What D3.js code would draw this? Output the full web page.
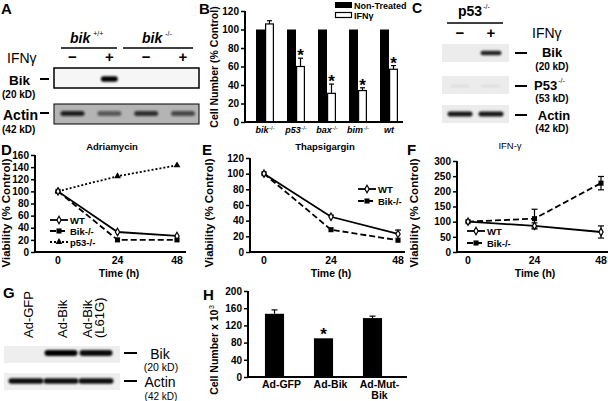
<!DOCTYPE html>
<html><head><meta charset="utf-8">
<script src="https://cdn.jsdelivr.net/npm/d3@7"></script>
<style>body{margin:0;background:#fff} svg{display:block;font-family:"Liberation Sans",Arial,sans-serif}</style>
</head><body><svg id="c" width="608" height="401"></svg>
<script>
// ---------------- DATA ----------------
// Panel A blot (lanes: bik+/+ -, bik+/+ +, bik-/- -, bik-/- +)
const aLanes = ["wt-", "wt+", "ko-", "ko+"];
const aBikBand = [0, 1, 0, 0];
const aActinBand = [0.9, 0.55, 0.8, 0.65];
// Panel B
const bCategories = ["bik", "p53", "bax", "bim", "wt"];
const bSeries = ["Non-Treated", "IFNγ"];
const bNonTreated = [100, 100, 100, 100, 100];
const bIFN = [106, 60, 31, 34, 57];
const bIFNErr = [3.5, 9, 10, 3, 4];
const bStar = [false, true, true, true, true];
const bTicks = [0, 20, 40, 60, 80, 100, 120];
// Panel C blot (lanes: -, +)
const cLanes = ["-", "+"];
const cBikBand = [0, 0.85];
const cP53Band = [0.05, 0.05];
const cActinBand = [0.9, 0.9];
// Panels D-F
const timePoints = [0, 24, 48];
const dWT = [100, 33, 26.5];
const dBik = [100, 20, 20];
const dP53 = [100, 125, 143];
const dTicks = [0, 20, 40, 60, 80, 100, 120, 140, 160];
const eWT = [100, 45, 23];
const eWTErr = [0, 2, 5];
const eBik = [100, 28.5, 15];
const eTicks = [0, 20, 40, 60, 80, 100, 120];
const fWT = [100, 86, 66];
const fWTErr = [0, 10, 20];
const fBik = [100, 110, 227];
const fBikErr = [0, 31, 22];
const fTicks = [0, 50, 100, 150, 200, 250, 300];
// Panel G blot (lanes: Ad-GFP, Ad-Bik, Ad-Bik(L61G))
const gLanes = ["Ad-GFP", "Ad-Bik", "Ad-Bik (L61G)"];
const gBikBand = [0, 1, 0.95];
const gActinBand = [0.95, 0.95, 0.95];
// Panel H
const hCategories = ["Ad-GFP", "Ad-Bik", "Ad-Mut-Bik"];
const hLabels = [["Ad-GFP"], ["Ad-Bik"], ["Ad-Mut-", "Bik"]];
const hValues = [147, 90, 137];
const hErr = [9, 0, 4.5];
const hStar = [false, true, false];
const hTicks = [0, 40, 80, 120, 160, 200];

// ---------------- HELPERS ----------------
const FONT = '"Liberation Sans", Arial, sans-serif';
const svg = d3.select('#c');
svg.append('rect').attr('width', 608).attr('height', 401).attr('fill', '#fff');
const defs = svg.append('defs');
defs.append('filter').attr('id', 'blur').attr('x', '-50%').attr('y', '-200%').attr('width', '200%').attr('height', '500%')
  .append('feGaussianBlur').attr('stdDeviation', 1.1);

function text(x, y, s, o = {}) {
  const t = svg.append('text').attr('x', x).attr('y', y)
    .attr('font-size', o.size || 10).attr('font-weight', o.weight || 'bold')
    .attr('font-style', o.italic ? 'italic' : 'normal')
    .attr('text-anchor', o.anchor || 'start').attr('fill', '#000').text(s);
  if (o.rotate) t.attr('transform', `rotate(-90,${x},${y})`);
  return t;
}
function supText(x, y, base, sup, o = {}) {
  const t = svg.append('text').attr('x', x).attr('y', y)
    .attr('font-size', o.size || 10).attr('font-weight', o.weight || 'bold')
    .attr('text-anchor', o.anchor || 'start').attr('fill', '#000');
  if (o.rotate) t.attr('transform', `rotate(-90,${x},${y})`);
  t.append('tspan').attr('font-style', o.italic ? 'italic' : 'normal').text(base);
  if (sup) t.append('tspan').attr('font-size', o.supSize || 7).attr('dy', o.supDy || -5).attr('dx', o.supDx || 1)
    .attr('font-weight', 'normal').text(sup);
  return t;
}
function hline(x1, x2, y, w = 1.5) {
  svg.append('line').attr('x1', x1).attr('x2', x2).attr('y1', y).attr('y2', y).attr('stroke', '#000').attr('stroke-width', w);
}
function yAxis(scale, x, ticks) {
  const g = svg.append('g').attr('transform', `translate(${x},0)`)
    .call(d3.axisLeft(scale).tickValues(ticks).tickSize(4).tickPadding(2).tickSizeOuter(0));
  g.attr('font-family', FONT);
  g.select('.domain').remove();
  g.selectAll('.tick line').attr('stroke', '#000').attr('stroke-width', 1.5);
  g.selectAll('.tick text').attr('font-size', 10).attr('font-weight', 'bold').attr('fill', '#000');
  svg.append('line').attr('x1', x).attr('x2', x).attr('y1', scale.range()[1]).attr('y2', scale.range()[0])
    .attr('stroke', '#000').attr('stroke-width', 2);
}
function xAxisLine(x1, x2, y) {
  svg.append('line').attr('x1', x1 - 1).attr('x2', x2).attr('y1', y).attr('y2', y).attr('stroke', '#000').attr('stroke-width', 2);
}
function band(cx, cy, w, h, intensity, color = '#000') {
  if (intensity <= 0) return;
  svg.append('rect').attr('x', cx - w / 2).attr('y', cy - h / 2).attr('width', w).attr('height', h)
    .attr('rx', h / 2).attr('ry', h / 2).attr('fill', color).attr('opacity', intensity).attr('filter', 'url(#blur)');
}
function marker(type, x, y) {
  if (type === 'diamond') {
    svg.append('path').attr('d', d3.symbol(d3.symbolDiamond, 16)()).attr('transform', `translate(${x},${y})`)
      .attr('fill', '#fff').attr('stroke', '#000').attr('stroke-width', 1.2);
  } else if (type === 'square') {
    svg.append('path').attr('d', d3.symbol(d3.symbolSquare, 26)()).attr('transform', `translate(${x},${y})`).attr('fill', '#000');
  } else {
    svg.append('path').attr('d', d3.symbol(d3.symbolTriangle, 20)()).attr('transform', `translate(${x},${y})`).attr('fill', '#000');
  }
}
function errBar(x, y0, y1, cap = 3) {
  svg.append('line').attr('x1', x).attr('x2', x).attr('y1', y0).attr('y2', y1).attr('stroke', '#000').attr('stroke-width', 1.2);
  hline(x - cap, x + cap, y1, 1.2);
}
const dashes = { solid: null, dashed: '6,3', dotted: '2,2' };
function series(x, y, vals, errs, mk, dash, both) {
  const line = d3.line().x((d, i) => x(timePoints[i])).y(d => y(d));
  svg.append('path').datum(vals).attr('d', line).attr('fill', 'none').attr('stroke', '#000').attr('stroke-width', 1.8)
    .attr('stroke-dasharray', dashes[dash]);
  vals.forEach((v, i) => {
    if (errs && errs[i] > 0) {
      errBar(x(timePoints[i]), y(v), y(v + errs[i]));
      if (both) errBar(x(timePoints[i]), y(v), y(v - errs[i]));
    }
    marker(mk, x(timePoints[i]), y(v));
  });
}
function legendItem(x, y, label, mk, dash) {
  svg.append('line').attr('x1', x).attr('x2', x + 18).attr('y1', y).attr('y2', y).attr('stroke', '#000').attr('stroke-width', 1.8)
    .attr('stroke-dasharray', dashes[dash]);
  marker(mk, x + 9, y);
  text(x + 20, y + 3.5, label, { size: 9.5 });
}
function panelLetter(x, y, s) { text(x, y, s, { size: 15 }); }

// ---------------- PANEL A ----------------
panelLetter(1, 14, 'A');
supText(70, 43, 'bik', '+/+', { size: 14, italic: true, supSize: 7, supDy: -7, supDx: 3 });
supText(142, 43, 'bik', '-/-', { size: 14, italic: true, supSize: 7, supDy: -7, supDx: 3 });
hline(61, 117, 48, 1.5);
hline(123, 193, 48, 1.5);
text(7, 63, 'IFNγ', { size: 14, weight: 'normal' });
const aX = d3.scalePoint().domain(aLanes).range([72.5, 183]);
['−', '+', '−', '+'].forEach((s, i) => text(aX(aLanes[i]), 62, s, { size: 15, anchor: 'middle' }));
svg.append('rect').attr('x', 54).attr('y', 68).attr('width', 145).attr('height', 20).attr('fill', '#f6f6f6').attr('stroke', '#000').attr('stroke-width', 1.5);
aLanes.forEach((l, i) => band(aX(l), 79, 17, 5.5, aBikBand[i]));
svg.append('rect').attr('x', 54).attr('y', 104).attr('width', 145).attr('height', 20).attr('fill', '#b4b4b4').attr('stroke', '#000').attr('stroke-width', 1);
aLanes.forEach((l, i) => band(aX(l), 113.5, 24, 5, aActinBand[i], '#111'));
text(9, 85, 'Bik', { size: 13.5 });
text(2, 98, '(20 kD)', { size: 10 });
hline(40, 49, 79, 2);
text(3, 120, 'Actin', { size: 14 });
text(2, 133, '(42 kD)', { size: 10 });
hline(40, 49, 113, 2);

// ---------------- PANEL B ----------------
panelLetter(199, 14, 'B');
const bY = d3.scaleLinear().domain([0, 120]).range([122, 11]);
const bX = d3.scaleBand().domain(bCategories).range([249.5, 404.5]).paddingInner(0.42).paddingOuter(0.21);
const bSub = d3.scaleBand().domain(bSeries).range([0, bX.bandwidth()]);
bCategories.forEach((c, i) => {
  svg.append('rect').attr('x', bX(c) + bSub(bSeries[0])).attr('y', bY(bNonTreated[i]))
    .attr('width', bSub.bandwidth()).attr('height', bY(0) - bY(bNonTreated[i])).attr('fill', '#000');
  const xi = bX(c) + bSub(bSeries[1]);
  const cx = xi + bSub.bandwidth() / 2;
  errBar(cx, bY(bIFN[i]), bY(bIFN[i] + bIFNErr[i]), 2.5);
  svg.append('rect').attr('x', xi + 0.6).attr('y', bY(bIFN[i]))
    .attr('width', bSub.bandwidth() - 1.2).attr('height', bY(0) - bY(bIFN[i])).attr('fill', '#fff').attr('stroke', '#000').attr('stroke-width', 1.2);
  if (bStar[i]) text(cx, bY(bIFN[i] + bIFNErr[i]) + 3, '*', { size: 17, anchor: 'middle' });
  supText(bX(c) + bX.bandwidth() / 2, 133, c, c === 'wt' ? null : '-/-', { size: 9, italic: true, anchor: 'middle', supSize: 6, supDy: -3, supDx: 0.5 });
});
yAxis(bY, 245, bTicks);
xAxisLine(245, 403, bY(0));
text(218, 67, 'Cell Number (% Control)', { size: 10.5, anchor: 'middle', rotate: true });
svg.append('rect').attr('x', 335).attr('y', 2).attr('width', 17).attr('height', 6).attr('fill', '#000');
svg.append('rect').attr('x', 335.5).attr('y', 12.5).attr('width', 16).attr('height', 5).attr('fill', '#fff').attr('stroke', '#000').attr('stroke-width', 1.2);
text(354, 8.5, bSeries[0], { size: 9 });
text(354, 19, bSeries[1], { size: 9 });

// ---------------- PANEL C ----------------
text(412, 13, 'C', { size: 14 });
supText(458, 16, 'p53', '-/-', { size: 14, supSize: 7, supDy: -7, supDx: 1 });
hline(447, 503, 23, 1.5);
const cX = d3.scalePoint().domain(cLanes).range([460, 491]);
['−', '+'].forEach((s, i) => text(cX(cLanes[i]), 38, s, { size: 15, anchor: 'middle' }));
text(532, 38, 'IFNγ', { size: 14, weight: 'normal' });
[[44, cBikBand, 53, 4.5, 21], [76, cP53Band, 86, 3, 20], [105, cActinBand, 114, 5, 25]].forEach(([y0, vals, cy, h, w]) => {
  svg.append('rect').attr('x', 442).attr('y', y0).attr('width', 67).attr('height', 18).attr('fill', '#ececec');
  cLanes.forEach((l, i) => band(cX(l), cy, w, h, vals[i]));
});
hline(515, 527, 53, 2);
text(552, 57, 'Bik', { size: 13, anchor: 'middle' });
text(552, 70, '(20 kD)', { size: 10, anchor: 'middle' });
hline(515, 527, 86, 2);
supText(534, 90, 'P53', '-/-', { size: 13, supSize: 7, supDy: -7, supDx: 1 });
text(552, 102, '(53 kD)', { size: 10, anchor: 'middle' });
hline(515, 527, 115, 2);
text(554, 120, 'Actin', { size: 13, anchor: 'middle' });
text(552, 132, '(42 kD)', { size: 10, anchor: 'middle' });

// ---------------- PANEL D ----------------
panelLetter(1, 155, 'D');
text(112, 150, 'Adriamycin', { size: 9.5, anchor: 'middle' });
const dX = d3.scaleLinear().domain([0, 48]).range([58, 177]);
const dY = d3.scaleLinear().domain([0, 160]).range([252, 155]);
yAxis(dY, 35, dTicks);
xAxisLine(35, 186, dY(0));
timePoints.forEach(t => text(dX(t), 264, t, { size: 10.5, anchor: 'middle' }));
text(119, 277, 'Time (h)', { size: 10.5, anchor: 'middle' });
text(10, 213, 'Viability (% Control)', { size: 11.5, anchor: 'middle', rotate: true });
series(dX, dY, dP53, null, 'triangle', 'dotted');
series(dX, dY, dBik, null, 'square', 'dashed');
series(dX, dY, dWT, null, 'diamond', 'solid');
legendItem(50, 220, 'WT', 'diamond', 'solid');
legendItem(50, 231, 'Bik-/-', 'square', 'dashed');
legendItem(50, 242, 'p53-/-', 'triangle', 'dotted');

// ---------------- PANEL E ----------------
panelLetter(202, 155, 'E');
text(325, 150, 'Thapsigargin', { size: 9.5, anchor: 'middle' });
const eX = d3.scaleLinear().domain([0, 48]).range([264, 398]);
const eY = d3.scaleLinear().domain([0, 120]).range([252, 158]);
yAxis(eY, 250, eTicks);
xAxisLine(250, 405, eY(0));
timePoints.forEach(t => text(eX(t), 264, t, { size: 10.5, anchor: 'middle' }));
text(331, 277, 'Time (h)', { size: 10.5, anchor: 'middle' });
text(213, 213, 'Viability (% Control)', { size: 11.5, anchor: 'middle', rotate: true });
series(eX, eY, eBik, null, 'square', 'dashed');
series(eX, eY, eWT, eWTErr, 'diamond', 'solid');
legendItem(358, 189, 'WT', 'diamond', 'solid');
legendItem(358, 201, 'Bik-/-', 'square', 'dashed');

// ---------------- PANEL F ----------------
panelLetter(407, 155, 'F');
text(510, 149, 'IFN-γ', { size: 9.5, weight: 'normal', anchor: 'middle' });
const fX = d3.scaleLinear().domain([0, 48]).range([468, 601]);
const fY = d3.scaleLinear().domain([0, 300]).range([252, 161]);
yAxis(fY, 457, fTicks);
xAxisLine(457, 608, fY(0));
timePoints.forEach(t => text(fX(t), 264, t, { size: 10.5, anchor: 'middle' }));
text(535, 277, 'Time (h)', { size: 10.5, anchor: 'middle' });
text(418, 213, 'Viability (% Control)', { size: 11.5, anchor: 'middle', rotate: true });
series(fX, fY, fBik, fBikErr, 'square', 'dashed', true);
series(fX, fY, fWT, fWTErr, 'diamond', 'solid', true);
legendItem(467, 231, 'WT', 'diamond', 'solid');
legendItem(467, 243, 'Bik-/-', 'square', 'dashed');

// ---------------- PANEL G ----------------
panelLetter(3, 298, 'G');
const gX = d3.scalePoint().domain(gLanes).range([26, 96]);
text(33, 338, 'Ad-GFP', { size: 13, weight: 'normal', rotate: true });
text(67, 338, 'Ad-Bik', { size: 13, weight: 'normal', rotate: true });
text(92, 338, 'Ad-Bik', { size: 13, weight: 'normal', rotate: true });
text(104, 338, '(L61G)', { size: 13, weight: 'normal', rotate: true });
svg.append('rect').attr('x', 4).attr('y', 346).attr('width', 116).attr('height', 17).attr('fill', '#eeeeee');
gLanes.forEach((l, i) => band(gX(l), 353, 33, 6, gBikBand[i]));
svg.append('rect').attr('x', 4).attr('y', 373).attr('width', 116).attr('height', 17).attr('fill', '#eeeeee');
gLanes.forEach((l, i) => band(gX(l), 381, 35, 5.5, gActinBand[i]));
hline(124, 137, 353, 2);
text(160, 359, 'Bik', { size: 14, weight: 'normal', anchor: 'middle' });
text(161, 371, '(20 kD)', { size: 10.5, weight: 'normal', anchor: 'middle' });
hline(124, 137, 381, 2);
text(160, 387, 'Actin', { size: 14, weight: 'normal', anchor: 'middle' });
text(161, 399.5, '(42 kD)', { size: 10, weight: 'normal', anchor: 'middle' });

// ---------------- PANEL H ----------------
panelLetter(203, 300, 'H');
const hY = d3.scaleLinear().domain([0, 200]).range([377, 291]);
const hX = d3.scaleBand().domain(hCategories).range([250, 397]).paddingInner(0.61).paddingOuter(0.305);
hCategories.forEach((c, i) => {
  const cx = hX(c) + hX.bandwidth() / 2;
  if (hErr[i] > 0) errBar(cx, hY(hValues[i]), hY(hValues[i] + hErr[i]), 3);
  svg.append('rect').attr('x', hX(c)).attr('y', hY(hValues[i])).attr('width', hX.bandwidth())
    .attr('height', hY(0) - hY(hValues[i])).attr('fill', '#000');
  if (hStar[i]) text(cx, hY(hValues[i] + hErr[i]) + 2, '*', { size: 17, anchor: 'middle' });
  hLabels[i].forEach((s, j) => text(cx + 7, 388 + j * 11, s, { size: 10.5, anchor: 'middle' }));
});
yAxis(hY, 248, hTicks);
xAxisLine(248, 407, hY(0));
supText(218, 350, 'Cell Number x 10', '3', { size: 10.5, anchor: 'middle', rotate: true, supSize: 7, supDy: -4, supDx: 0.5 });
</script></body></html>
